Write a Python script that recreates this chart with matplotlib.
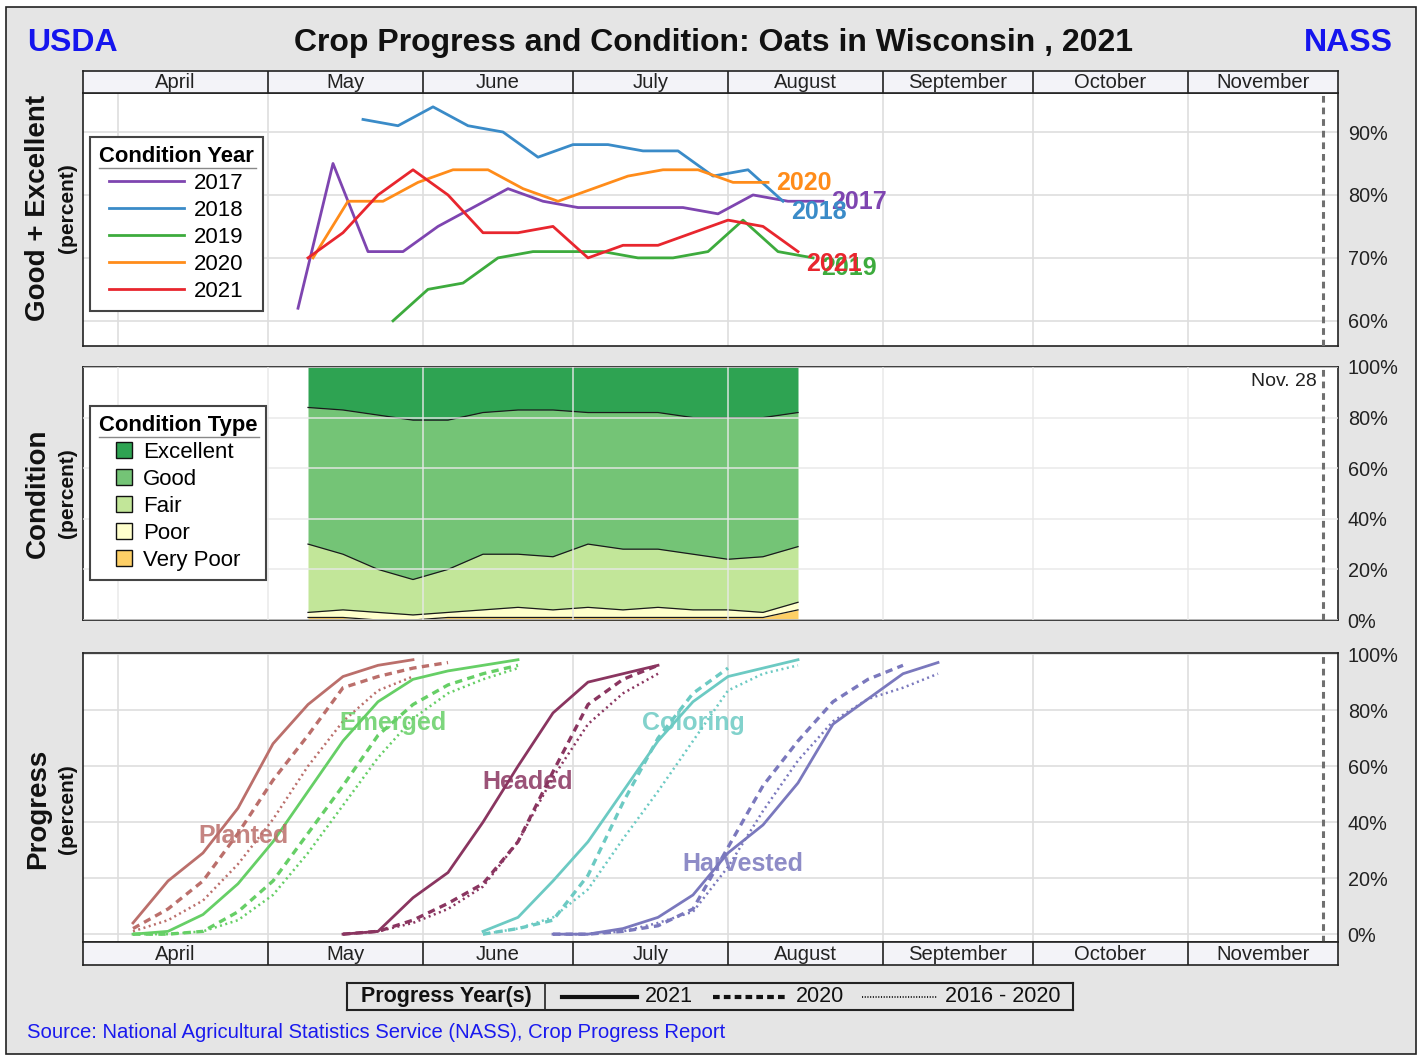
import matplotlib
matplotlib.use("Agg")
import matplotlib.pyplot as plt
from matplotlib.lines import Line2D
from matplotlib.patches import Patch, Rectangle
from matplotlib.transforms import IdentityTransform
import pandas as pd

plt.rcParams['font.family'] = ['Liberation Sans', 'DejaVu Sans']

# ---------------- Good + Excellent condition, by year (week ending, MM-DD)
cond_years = ['2017', '2018', '2019', '2020', '2021']
cond_colors = ['#7e45b0', '#3a8bc8', '#3dab3d', '#ff8c1a', '#e8262e']

dates_2017 = ['05-07', '05-14', '05-21', '05-28', '06-04', '06-11', '06-18', '06-25',
              '07-02', '07-09', '07-16', '07-23', '07-30', '08-06', '08-13', '08-20']
ge_2017 = [62, 85, 71, 71, 75, 78, 81, 79, 78, 78, 78, 78, 77, 80, 79, 79]

dates_2018 = ['05-20', '05-27', '06-03', '06-10', '06-17', '06-24', '07-01', '07-08',
              '07-15', '07-22', '07-29', '08-05', '08-12']
ge_2018 = [92, 91, 94, 91, 90, 86, 88, 88, 87, 87, 83, 84, 79]

dates_2019 = ['05-26', '06-02', '06-09', '06-16', '06-23', '06-30', '07-07', '07-14',
              '07-21', '07-28', '08-04', '08-11', '08-18']
ge_2019 = [60, 65, 66, 70, 71, 71, 71, 70, 70, 71, 76, 71, 70]

dates_2020 = ['05-10', '05-17', '05-24', '05-31', '06-07', '06-14', '06-21', '06-28',
              '07-05', '07-12', '07-19', '07-26', '08-02', '08-09']
ge_2020 = [70, 79, 79, 82, 84, 84, 81, 79, 81, 83, 84, 84, 82, 82]

dates_2021 = ['05-09', '05-16', '05-23', '05-30', '06-06', '06-13', '06-20', '06-27',
              '07-04', '07-11', '07-18', '07-25', '08-01', '08-08', '08-15']
ge_2021 = [70, 74, 80, 84, 80, 74, 74, 75, 70, 72, 72, 74, 76, 75, 71]

# label nudges for the year tags at line ends (percent points)
year_label_dy = [-0.1, -1.7, -1.6, -0.1, -2.0]

# ---------------- 2021 condition by type (same weeks as dates_2021)
cond_types = ['Excellent', 'Good', 'Fair', 'Poor', 'Very Poor']
type_colors = ['#2ea352', '#74c476', '#c2e699', '#ffffcc', '#fdcf66']
very_poor = [1, 1, 0, 0, 1, 1, 1, 1, 1, 1, 1, 1, 1, 1, 4]
poor = [2, 3, 3, 2, 2, 3, 4, 3, 4, 3, 4, 3, 3, 2, 3]
fair = [27, 22, 17, 14, 17, 22, 21, 21, 25, 24, 23, 22, 20, 22, 22]
good = [54, 57, 61, 63, 59, 56, 57, 58, 52, 54, 54, 54, 56, 55, 53]
excellent = [16, 17, 19, 21, 21, 18, 17, 17, 18, 18, 18, 20, 20, 20, 18]

# ---------------- progress (2021 solid, 2020 dashed, 2016-2020 avg dotted)
stages = ['Planted', 'Emerged', 'Headed', 'Coloring', 'Harvested']
stage_colors = ['#bb6f6b', '#66cf66', '#8a3560', '#6ccac3', '#7a78bd']

planted_weeks = ['04-04', '04-11', '04-18', '04-25', '05-02', '05-09', '05-16', '05-23',
                 '05-30', '06-06']
planted_2021 = [4, 19, 29, 45, 68, 82, 92, 96, 98, None]
planted_2020 = [2, 9, 19, 36, 55, 71, 88, 92, 95, 97]
planted_avg = [1, 5, 12, 25, 41, 60, 76, 87, 92, None]

emerged_weeks = ['04-04', '04-11', '04-18', '04-25', '05-02', '05-09', '05-16', '05-23',
                 '05-30', '06-06', '06-13', '06-20']
emerged_2021 = [0, 1, 7, 18, 33, 51, 69, 83, 91, 94, 96, 98]
emerged_2020 = [0, 0, 1, 8, 19, 36, 53, 71, 82, 89, 93, 96]
emerged_avg = [0, 0, 1, 5, 14, 29, 46, 63, 77, 86, 91, 95]

headed_weeks = ['05-16', '05-23', '05-30', '06-06', '06-13', '06-20', '06-27', '07-04',
                '07-11', '07-18']
headed_2021 = [0, 1, 13, 22, 40, 60, 79, 90, 93, 96]
headed_2020 = [0, 1, 5, 11, 18, 33, 58, 82, 91, 96]
headed_avg = [0, 1, 4, 9, 17, 33, 56, 75, 86, 93]

coloring_weeks = ['06-13', '06-20', '06-27', '07-04', '07-11', '07-18', '07-25', '08-01',
                  '08-08', '08-15']
coloring_2021 = [1, 6, 19, 33, 51, 69, 83, 92, 95, 98]
coloring_2020 = [0, 2, 5, 21, 47, 70, 86, 95, None, None]
coloring_avg = [0, 2, 6, 16, 34, 51, 69, 87, 93, 96]

harvested_weeks = ['06-27', '07-04', '07-11', '07-18', '07-25', '08-01', '08-08', '08-15',
                   '08-22', '08-29', '09-05', '09-12']
harvested_2021 = [0, 0, 2, 6, 14, 29, 39, 54, 75, 84, 93, 97]
harvested_2020 = [0, 0, 1, 3, 9, 31, 53, 69, 83, 91, 96, None]
harvested_avg = [0, 0, 1, 4, 8, 24, 44, 62, 76, 84, 88, 93]

# stage label anchor points (MM-DD, percent)
stage_label_dates = ['04-26', '05-26', '06-22', '07-25', '08-04']
stage_label_pct = [35, 75.5, 54.5, 75.5, 25]

# ---------------- calendar
month_names = ['April', 'May', 'June', 'July', 'August', 'September', 'October', 'November']
month_starts = ['04-01', '05-01', '06-01', '07-01', '08-01', '09-01', '10-01', '11-01', '12-01']
axis_start = '03-25'
report_date = '11-28'


def doy(md):
    return pd.Timestamp('2021-' + md).dayofyear


def doys(mds):
    return [doy(d) for d in mds]


XMIN, XMAX = doy(axis_start), doy(month_starts[-1])
grid_days = doys(month_starts[:-1])
box_edges = [XMIN] + doys(month_starts[1:])
NOV28 = doy(report_date)

W, H = 1424, 1057
fig = plt.figure(figsize=(W / 100, H / 100), dpi=100, facecolor='white')
fig.patches.append(Rectangle((6 / W, 3 / H), 1410 / W, 1047 / H, transform=fig.transFigure,
                             facecolor='#e5e5e5', edgecolor='#222222', lw=1.2, zorder=-10))

L, WD = 83 / W, 1255 / W
ax1 = fig.add_axes([L, 1 - 346 / H, WD, 253 / H])
strip_top = fig.add_axes([L, 1 - 93 / H, WD, 22 / H])
ax2 = fig.add_axes([L, 1 - 620 / H, WD, 253 / H])
ax3 = fig.add_axes([L, 1 - 942 / H, WD, 289 / H])
strip_bot = fig.add_axes([L, 1 - 965 / H, WD, 23 / H])


def month_strip(ax):
    ax.set_xlim(XMIN, XMAX)
    ax.set_ylim(0, 1)
    ax.set_facecolor('#f3f3f8')
    ax.set_xticks([])
    ax.set_yticks([])
    for e in box_edges[1:-1]:
        ax.axvline(e, color='#222222', lw=1.2)
    for name, a, b in zip(month_names, box_edges[:-1], box_edges[1:]):
        ax.text((a + b) / 2, 0.47, name, ha='center', va='center', fontsize=14.6, color='#222222')
    for sp in ax.spines.values():
        sp.set_linewidth(1.2)
        sp.set_color('#222222')


def panel(ax, yticks, ylim):
    ax.set_xlim(XMIN, XMAX)
    ax.set_ylim(*ylim)
    ax.set_xticks(grid_days)
    ax.set_xticklabels([])
    ax.tick_params(axis='x', length=0)
    ax.yaxis.tick_right()
    ax.set_yticks(yticks)
    ax.set_yticklabels([f'{t}%' for t in yticks])
    ax.tick_params(axis='y', length=0, pad=7, labelsize=14.3, labelcolor='#222222')
    ax.grid(True, color='#dedede', lw=1.2)
    ax.axvline(NOV28, color='#707070', ls=(0, (2.2, 1.6)), lw=2.2, zorder=4)
    for sp in ax.spines.values():
        sp.set_linewidth(1.2)
        sp.set_color('#222222')


month_strip(strip_top)
month_strip(strip_bot)

# ---------------- top: good + excellent
panel(ax1, [60, 70, 80, 90], (56, 96.2))
cond_dates = [dates_2017, dates_2018, dates_2019, dates_2020, dates_2021]
cond_vals = [ge_2017, ge_2018, ge_2019, ge_2020, ge_2021]
for yr, c, d, v, dy in zip(cond_years, cond_colors, cond_dates, cond_vals, year_label_dy):
    x = doys(d)
    ax1.plot(x, v, color=c, lw=2, zorder=3)
    ax1.text(x[-1] + 1.6, v[-1] + dy, yr, color=c, fontsize=18, fontweight='bold',
             ha='left', va='center', zorder=5)

legend_kw = dict(loc='upper left', borderaxespad=0, fontsize=16,
                 title_fontproperties={'weight': 'bold', 'size': 15.8},
                 fancybox=False, edgecolor='#444444', framealpha=1,
                 labelspacing=0.27, borderpad=0.4)
leg1 = ax1.legend([Line2D([], [], color=c, lw=2) for c in cond_colors], cond_years,
                  title='Condition Year', bbox_to_anchor=(0.0056, 0.826),
                  handlelength=3.4, handletextpad=0.45, **legend_kw)
leg1.get_frame().set_linewidth(1.5)

# ---------------- middle: condition type stack
ax2.set_axisbelow(False)
panel(ax2, [0, 20, 40, 60, 80, 100], (0, 100))
ax2.grid(True, color='#e8e8e8', lw=1.2, alpha=0.85)
x21 = doys(dates_2021)
layers = [very_poor, poor, fair, good, excellent]
fills = type_colors[::-1]
base = [0] * len(x21)
for vals, col in zip(layers, fills):
    top = [b + v for b, v in zip(base, vals)]
    ax2.fill_between(x21, base, top, color=col, lw=0, zorder=1)
    ax2.plot(x21, base, color='#1a1a1a', lw=0.9, zorder=2)
    base = top
ax2.text(NOV28 - 1.2, 97.5, 'Nov. 28', ha='right', va='top', fontsize=14, color='#222222')

leg2 = ax2.legend([Patch(facecolor=c, edgecolor='#111111', lw=1) for c in type_colors],
                  cond_types, title='Condition Type', bbox_to_anchor=(0.0056, 0.846),
                  handlelength=0.7, handleheight=0.7, handletextpad=0.5, **legend_kw)
leg2.get_frame().set_linewidth(1.5)

# ---------------- bottom: progress
panel(ax3, [0, 20, 40, 60, 80, 100], (-2.8, 100.4))
stage_weeks = [planted_weeks, emerged_weeks, headed_weeks, coloring_weeks, harvested_weeks]
stage_2021 = [planted_2021, emerged_2021, headed_2021, coloring_2021, harvested_2021]
stage_2020 = [planted_2020, emerged_2020, headed_2020, coloring_2020, harvested_2020]
stage_avg = [planted_avg, emerged_avg, headed_avg, coloring_avg, harvested_avg]
styles = [('-', 2.0), ((0, (2.2, 1.6)), 2.4), ((0, (0.8, 1.4)), 1.8)]


def clean(weeks, vals):
    pts = [(doy(w), v) for w, v in zip(weeks, vals) if v is not None]
    return [p[0] for p in pts], [p[1] for p in pts]


for name, col, wk, s21, s20, sav, ld, lp in zip(stages, stage_colors, stage_weeks, stage_2021,
                                                 stage_2020, stage_avg, stage_label_dates,
                                                 stage_label_pct):
    for series, (ls, lw) in zip([s21, s20, sav], styles):
        x, y = clean(wk, series)
        ax3.plot(x, y, color=col, ls=ls, lw=lw, zorder=3)
    ax3.text(doy(ld), lp, name, color=col, alpha=0.85, fontsize=18, fontweight='bold',
             ha='center', va='center', zorder=5)

# ---------------- axis titles
for yc, big, small in [(0.8032, 'Good + Excellent', '(percent)'),
                       (0.5331, 'Condition', '(percent)'),
                       (0.2346, 'Progress', '(percent)')]:
    fig.text(38 / W, yc, big, rotation=90, ha='center', va='center', fontsize=20,
             fontweight='bold', color='#111111')
    fig.text(68 / W, yc, small, rotation=90, ha='center', va='center', fontsize=15,
             fontweight='bold', color='#111111')

fig.text(714 / W, 1 - 43 / H, 'Crop Progress and Condition: Oats in Wisconsin , 2021',
         ha='center', va='center', fontsize=23, fontweight='bold', color='#111111')
fig.text(27 / W, 1 - 43 / H, 'USDA', ha='left', va='center', fontsize=23,
         fontweight='bold', color='#1515ee')
fig.text(1393 / W, 1 - 43 / H, 'NASS', ha='right', va='center', fontsize=23,
         fontweight='bold', color='#1515ee')
fig.text(27 / W, 1 - 1033 / H,
         'Source: National Agricultural Statistics Service (NASS), Crop Progress Report',
         ha='left', va='center', fontsize=14.6, color='#1a1aee')

# ---------------- progress year legend box
axl = fig.add_axes([347 / W, 1 - 1010 / H, 726 / W, 27 / H])
axl.set_xlim(0, 1)
axl.set_ylim(0, 1)
axl.set_xticks([])
axl.set_yticks([])
axl.set_facecolor('#e5e5e5')
for sp in axl.spines.values():
    sp.set_linewidth(1.5)
    sp.set_color('#222222')
axl.axvline(0.2727, color='#222222', lw=1.2)
axl.text(0.1364, 0.5, 'Progress Year(s)', ha='center', va='center', fontsize=15.5,
         fontweight='bold', color='#111111')
leg_items = [('2021', '-', 3.0, 0.2961), ('2020', (0, (1.6, 1.0)), 3.0, 0.5041),
             ('2016 - 2020', (0, (0.6, 0.9)), 1.3, 0.7094)]
for lab, ls, lw, x0 in leg_items:
    axl.plot([x0, x0 + 0.1033], [0.5, 0.5], color='#111111', ls=ls, lw=lw)
    axl.text(x0 + 0.1144, 0.5, lab, ha='left', va='center', fontsize=15.5, color='#111111')

# thin rule under each legend title
fig.canvas.draw()
renderer = fig.canvas.get_renderer()
for leg in (leg1, leg2):
    bb = leg.get_title().get_window_extent(renderer)
    fig.add_artist(Line2D([bb.x0, bb.x1 + 2], [bb.y0 - 1, bb.y0 - 1], color='#888888',
                          lw=1.0, transform=IdentityTransform()))

fig.savefig('out.png', dpi=100, facecolor='white')
